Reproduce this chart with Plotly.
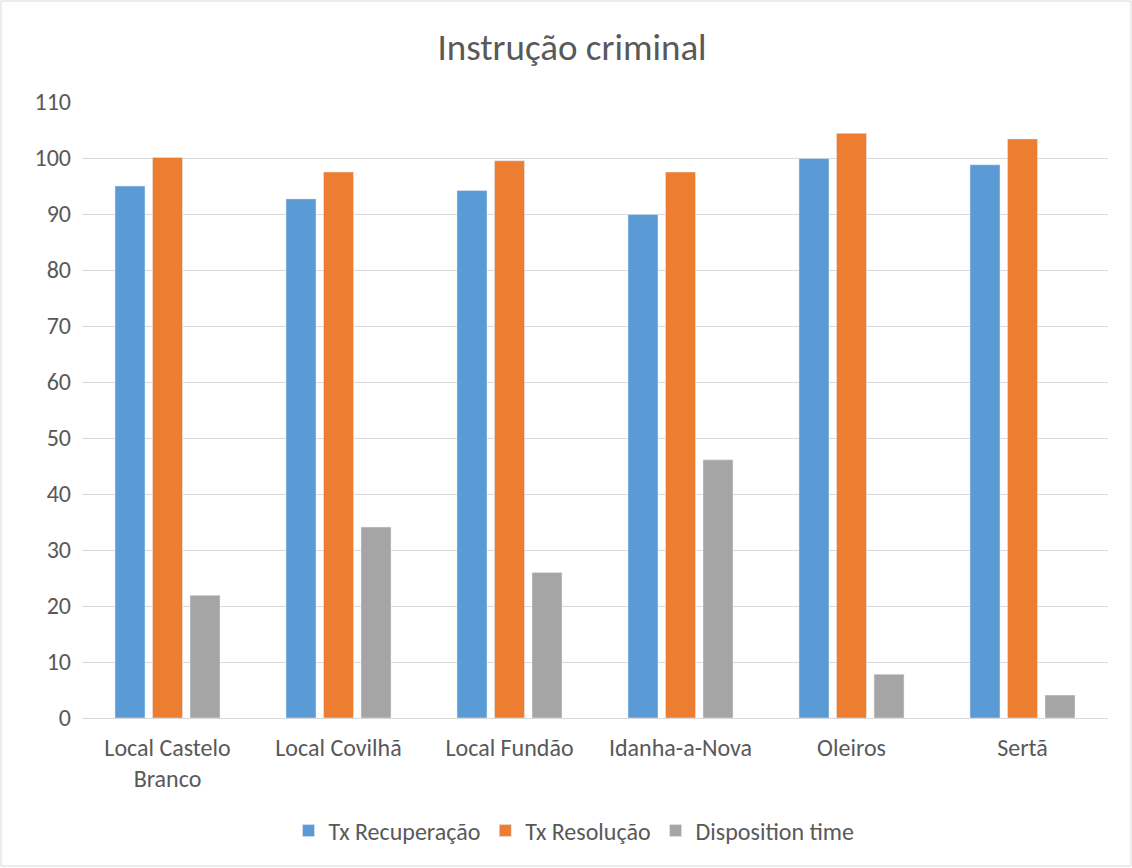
import plotly.graph_objects as go

categories = ["Local Castelo<br>Branco", "Local Covilhã", "Local Fundão", "Idanha-a-Nova", "Oleiros", "Sertã"]
tx_recuperacao = [95.0, 92.7, 94.2, 89.9, 99.9, 98.8]
tx_resolucao = [100.1, 97.5, 99.5, 97.5, 104.4, 103.4]
disposition_time = [21.9, 34.1, 26.0, 46.1, 7.8, 4.1]
y_ticks = [0, 10, 20, 30, 40, 50, 60, 70, 80, 90, 100, 110]

FONT = "Calibri, Carlito, Lato, sans-serif"
TXT = "#595959"

fig = go.Figure()
fig.add_trace(go.Bar(name="Tx Recuperação", x=categories, y=tx_recuperacao, marker_color="#5b9bd5"))
fig.add_trace(go.Bar(name="Tx Resolução", x=categories, y=tx_resolucao, marker_color="#ed7d31"))
fig.add_trace(go.Bar(name="Disposition time", x=categories, y=disposition_time, marker_color="#a5a5a5"))

L, R, T, B = 82, 24, 102, 150
W, H = 1132, 868
pw, ph = W - L - R, H - T - B

fig.update_layout(
    width=W, height=H,
    margin=dict(l=L, r=R, t=T, b=B, pad=0),
    paper_bgcolor="white", plot_bgcolor="white",
    barmode="group", bargap=0.342, bargroupgap=0.2,
    font=dict(family=FONT, size=24, color=TXT),
    title=dict(text="Instrução criminal", x=0.5 + 6 / W, xref="container", xanchor="center",
               y=1 - 47 / H, yref="container", yanchor="middle",
               font=dict(family=FONT, size=37, color=TXT)),
    xaxis=dict(showgrid=False, showline=False, ticks="", ticklabelstandoff=13,
               tickfont=dict(size=24, color=TXT)),
    yaxis=dict(range=[0, 110], tickvals=y_ticks, showgrid=True, gridcolor="#d9d9d9", gridwidth=1,
               zeroline=True, zerolinecolor="#d9d9d9", zerolinewidth=1, showline=False, ticks="",
               ticklabelstandoff=10, tickfont=dict(size=24, color=TXT)),
    legend=dict(orientation="h", x=0.5 - 21 / pw, xanchor="center", y=(718 - 831) / ph, yanchor="middle",
                font=dict(size=24, color=TXT), itemwidth=30, traceorder="normal"),
    shapes=[dict(type="rect", xref="paper", yref="paper",
                 x0=(1 - L) / pw, x1=(1131 - L) / pw,
                 y0=(718 - 866) / ph, y1=(718 - 1) / ph,
                 line=dict(color="#d9d9d9", width=1), fillcolor="rgba(0,0,0,0)", layer="below")],
)

fig.write_html("out.html", config={"displayModeBar": False},
               post_script="document.body.style.margin='0';document.body.style.overflow='hidden';")
